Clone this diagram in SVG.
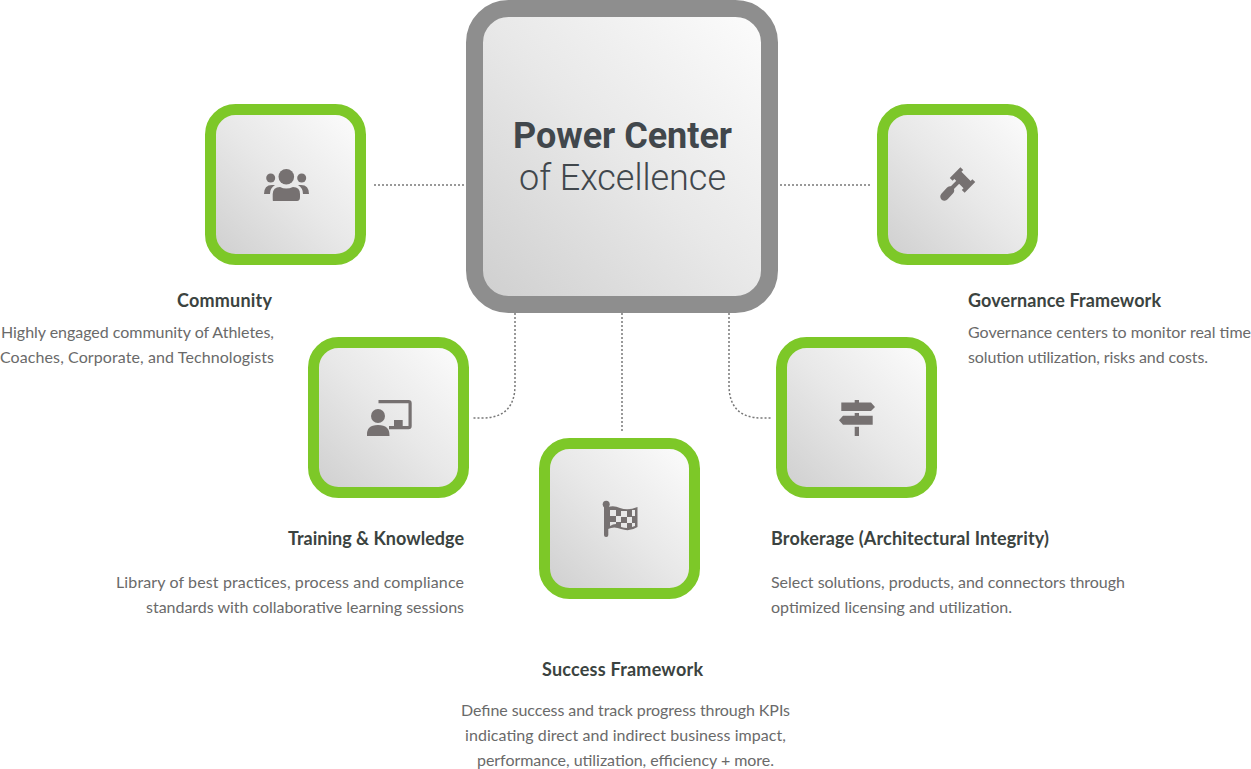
<svg xmlns="http://www.w3.org/2000/svg" width="1251" height="769" viewBox="0 0 1251 769">
<style>
.box{fill:url(#g);stroke:#7dc828;stroke-width:11}
.ic{fill:#767171}
.icl{fill:none;stroke:#767171}
.t{font-family:"Lato","Liberation Sans",sans-serif;font-size:18px;font-weight:700;fill:#3b4340}
.b{font-family:"Lato","Liberation Sans",sans-serif;font-size:16px;fill:#6a6a6a}
.c{fill:none;stroke:#787878;stroke-width:1.5;stroke-dasharray:2 2}
</style>
<defs>
<linearGradient id="g" x1="0" y1="1" x2="1" y2="0"><stop offset="0" stop-color="#cecece"/><stop offset="0.5" stop-color="#e8e8e8"/><stop offset="1" stop-color="#fdfdfd"/></linearGradient>
</defs>
<rect width="1251" height="769" fill="#fff"/>
<g id="connectors">
<path class="c" d="M374 185H466"/>
<path class="c" d="M780 185H871"/>
<path class="c" d="M515 313V385Q515 418 482 418H473"/>
<path class="c" d="M622 313V433"/>
<path class="c" d="M729 313V385Q729 418 762 418H771"/>
</g>
<g id="center">
<rect x="474.500" y="8.500" width="295" height="296" rx="34" fill="url(#g)" stroke="#8e8e8e" stroke-width="17"/>
<text x="513" y="148" textLength="219" font-family="Roboto,sans-serif" font-size="36" font-weight="700" fill="#41474c">Power Center</text>
<text x="519" y="190" textLength="207" font-family="Roboto,sans-serif" font-size="36" font-weight="300" fill="#41474c">of Excellence</text>
</g>
<g id="community">
<rect class="box" x="210.500" y="109.500" width="150" height="150" rx="25"/>
<g class="ic"><circle cx="286.300" cy="176.700" r="7.800"/><circle cx="270.700" cy="178" r="4.500"/><circle cx="301.700" cy="178" r="4.500"/>
<path d="M273 201Q272.700 201 272.700 197V194Q273 187 280 187Q286 190 293 187Q300 187 300 194V197Q300 201 297 201Z"/>
<path d="M264 194Q264 185 272 185L275 185Q270 188 270 194Z"/><path d="M309 194Q309 185 301 185L298 185Q303 188 303 194Z"/></g>
<text class="t" x="177" y="307" textLength="95">Community</text>
<text class="b" x="1" y="338" textLength="273">Highly engaged community of Athletes,</text>
<text class="b" x="0" y="363" textLength="274">Coaches, Corporate, and Technologists</text>
</g>
<g id="governance">
<rect class="box" x="882.500" y="109.500" width="150" height="150" rx="25"/>
<path class="ic" transform="rotate(45 962.500 180)" d="M952 172.500H956V175H969V172.500H973V187.500H969V185H956V187.500H952Z"/>
<path class="icl" stroke-width="4" d="M949 191L958 182"/>
<path class="icl" stroke-width="8.500" stroke-linecap="round" d="M944.500 196.500L950 190.500"/>
<text class="t" x="968" y="307" textLength="193">Governance Framework</text>
<text class="b" x="968" y="338" textLength="283">Governance centers to monitor real time</text>
<text class="b" x="968" y="363" textLength="240">solution utilization, risks and costs.</text>
</g>
<g id="training">
<rect class="box" x="313.500" y="342.500" width="150" height="150" rx="25"/>
<path class="icl" stroke-width="3.200" d="M378.500 401.600H408.500Q410.100 401.600 410.100 403.200V426Q410.100 427.600 408.500 427.600H389"/>
<rect class="ic" x="394" y="420" width="8.700" height="6"/>
<circle class="ic" cx="378" cy="416" r="7"/>
<path class="ic" d="M367 436Q366 425 378 425Q390 425 389.500 436Z"/>
<text class="t" x="288" y="545" textLength="176">Training &amp; Knowledge</text>
<text class="b" x="116" y="588" textLength="348">Library of best practices, process and compliance</text>
<text class="b" x="146" y="613" textLength="318">standards with collaborative learning sessions</text>
</g>
<g id="brokerage">
<rect class="box" x="781.500" y="342.500" width="150" height="150" rx="25"/>
<g class="ic"><path d="M841.300 402.500H854.700V400H859V402.500H871L875 407L871 411H841.300Z"/>
<path d="M854.700 415.700V413H859V415.700H872.700V424.700H843L839 420.200L843 415.700Z"/><rect x="854.700" y="426.800" width="4.300" height="9.200"/></g>
<text class="t" x="771" y="545" textLength="278">Brokerage (Architectural Integrity)</text>
<text class="b" x="771" y="588" textLength="354">Select solutions, products, and connectors through</text>
<text class="b" x="771" y="613" textLength="241">optimized licensing and utilization.</text>
</g>
<g id="success">
<rect class="box" x="544.500" y="443.500" width="150" height="150" rx="25"/>
<g class="ic"><rect x="604" y="504" width="4.300" height="33" rx="2"/><circle cx="606.200" cy="504.300" r="3.500"/>
<path fill-rule="evenodd" d="M608 507Q614 505 620 508Q628 511 637.500 507V527Q630 532 621 529Q614 526 608 529Z M610 510V516H616V510Z M621 511V517H627V511Z M632 510V516H635V510Z M616 516V522H621V516Z M627 517V523H632V517Z M610 522V526Q613 524 616 524V522Z M621 523V527Q624 528 627 528V523Z M632 523V527L635 526V523Z"/></g>
<text class="t" x="542" y="676" textLength="161">Success Framework</text>
<text class="b" x="461" y="716" textLength="329">Define success and track progress through KPIs</text>
<text class="b" x="465" y="741" textLength="321">indicating direct and indirect business impact,</text>
<text class="b" x="477" y="766" textLength="297">performance, utilization, efficiency + more.</text>
</g>
</svg>
